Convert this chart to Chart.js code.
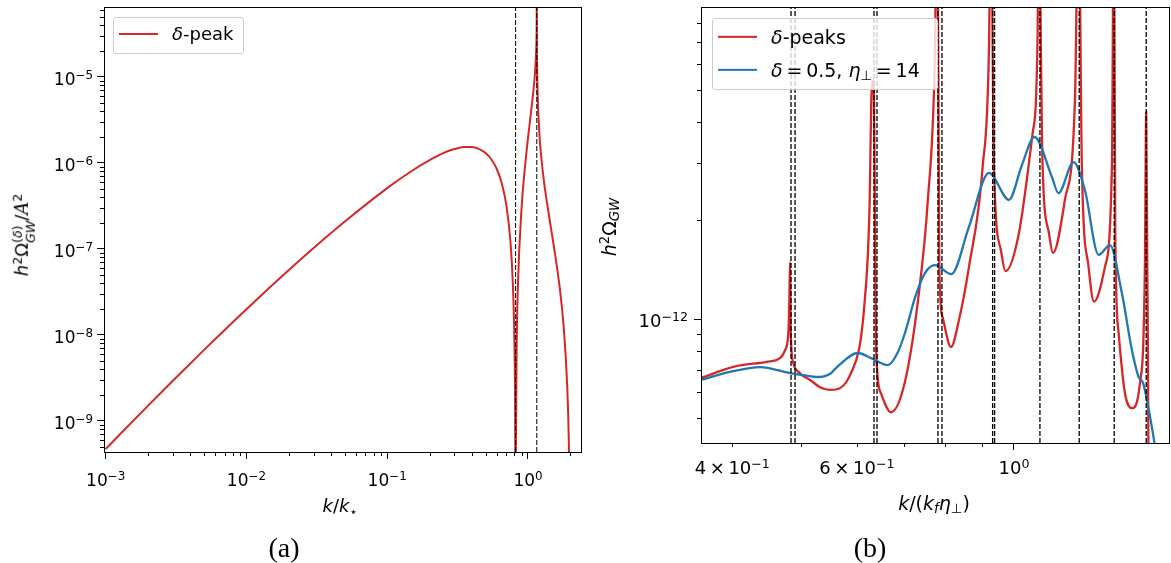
<!DOCTYPE html>
<html>
<head>
<meta charset="utf-8">
<script src="https://cdn.jsdelivr.net/npm/chart.js@4.4.0/dist/chart.umd.min.js"></script>
<style>
  html, body { margin: 0; padding: 0; background: #fff; }
  #fig { position: relative; width: 1171px; height: 563px; font-family: 'DejaVu Sans', sans-serif; color: #000; overflow: hidden; }
  .panel { position: absolute; top: 0; height: 520px; }
  .txt { position: absolute; white-space: nowrap; transform: translate(-50%, -50%); line-height: 1; }
  .rot { transform: translate(-50%, -50%) rotate(-90deg); }
  sup { font-size: 0.7em; line-height: 0; vertical-align: 0.48em; }
  sub { font-size: 0.7em; line-height: 0; vertical-align: -0.3em; }
  .stack { display: inline-flex; flex-direction: column; font-size: 0.7em; line-height: 1.05; vertical-align: 0.5em; }
  .cal { font-family: 'DejaVu Serif', serif; font-style: italic; }
  .tick { position: absolute; white-space: nowrap; line-height: 1; }
  .legend { position: absolute; background: rgba(255,255,255,0.8); border: 1px solid #ccc; border-radius: 3px; box-sizing: border-box; }
  .legend .swatch { position: absolute; transform: translateY(-50%); }
  .legend .lab { position: absolute; white-space: nowrap; transform: translateY(-50%); line-height: 1; }
  .caption { position: absolute; font-family: 'Liberation Serif', serif; font-size: 28px; transform: translate(-50%, -50%); }
</style>
</head>
<body>
<div id="fig">
  <div class="panel" style="left:0;width:590px"><canvas id="chartA"></canvas></div>
  <div class="panel" style="left:590px;width:581px"><canvas id="chartB"></canvas></div>

  <div class="txt" style="left:340px;top:506px;font-size:18px"><i>k</i>/<i>k</i><sub>⋆</sub></div>
  <div class="txt rot" style="left:24px;top:235px;font-size:18px"><i>h</i><sup>2</sup>Ω<span class="stack"><span>(<i>δ</i>)</span><span><i>GW</i></span></span>/<span class="cal">A</span><sup>2</sup></div>

  <div class="txt" style="left:934px;top:503px;font-size:19px"><i>k</i>/(<i>k</i><sub><i>f</i></sub><i>η</i><sub>⊥</sub>)</div>
  <div class="txt rot" style="left:609px;top:227px;font-size:19px"><i>h</i><sup>2</sup>Ω<sub><i>GW</i></sub></div>

  <div id="legA" class="legend" style="left:113px;top:17px;width:131px;height:37px"></div>
  <div id="legB" class="legend" style="left:712px;top:18px;width:226px;height:72px"></div>

  <div class="caption" style="left:284px;top:548px">(a)</div>
  <div class="caption" style="left:870px;top:548px">(b)</div>
</div>

<script>
// panel (a): single delta peak
const kA = [0.001, 0.002, 0.003, 0.005, 0.01, 0.02, 0.03, 0.05, 0.1, 0.15, 0.2, 0.25, 0.3, 0.35,
            0.4, 0.45, 0.5, 0.55, 0.6, 0.65, 0.7, 0.75, 0.78, 0.8, 0.81, 0.815, 0.82, 0.83, 0.85,
            0.9, 0.95, 1.0, 1.05, 1.1, 1.13, 1.15, 1.153, 1.1545, 1.1549, 1.157, 1.16, 1.2, 1.25,
            1.3, 1.4, 1.5, 1.6, 1.7, 1.8, 1.9, 1.95, 1.98];
const omegaA = [4.69e-10, 1.50e-9, 2.92e-9, 6.66e-9, 1.98e-8, 5.65e-8, 1.02e-7, 2.07e-7, 5.06e-7, 8.06e-7,
                1.07e-6, 1.29e-6, 1.44e-6, 1.52e-6, 1.52e-6, 1.44e-6, 1.30e-6, 1.09e-6, 8.45e-7, 5.82e-7,
                3.29e-7, 1.23e-7, 4.02e-8, 8.68e-9, 1.38e-9, 7.4e-11, 4.1e-10, 6.29e-9, 4.10e-8, 2.92e-7,
                8.65e-7, 1.93e-6, 3.84e-6, 7.71e-6, 1.34e-5, 2.92e-5, 4.24e-5, 8.06e-5, 6.36e-5, 2.31e-5,
                1.43e-5, 2.47e-6, 1.06e-6, 6.0e-7, 2.6e-7, 1.28e-7, 6.4e-8, 3.0e-8, 1.14e-8, 2.49e-9,
                5.9e-10, 9.2e-11];
const vlinesA = [0.8165, 1.1547];
const xLimA = [9.73e-4, 2.38];
const yLimA = [4.33e-10, 6.46e-5];
const kTicksA = [1e-3, 1e-2, 1e-1, 1];
const kTickLabelsA = ['10<sup>−3</sup>', '10<sup>−2</sup>', '10<sup>−1</sup>', '10<sup>0</sup>'];
const omegaTicksA = [1e-9, 1e-8, 1e-7, 1e-6, 1e-5];
const omegaTickLabelsA = ['10<sup>−9</sup>', '10<sup>−8</sup>', '10<sup>−7</sup>', '10<sup>−6</sup>', '10<sup>−5</sup>'];

// panel (b): several delta peaks vs. broad peak
const kRedB = [0.3613, 0.4013, 0.4473, 0.4671, 0.4749, 0.4800, 0.4816, 0.4827, 0.4838, 0.4879, 0.4986,
               0.5152, 0.5321, 0.5496, 0.5885, 0.6155, 0.6255, 0.6287, 0.6332, 0.6390, 0.6486, 0.6703,
               0.7008, 0.7319, 0.7558, 0.7726, 0.7796, 0.7843, 0.7931, 0.8147, 0.8362, 0.8638, 0.9032,
               0.9219, 0.9279, 0.9370, 0.9585, 0.9728, 1.0164, 1.0627, 1.0801, 1.0828, 1.0978, 1.1205,
               1.1352, 1.1803, 1.2195, 1.2340, 1.2473, 1.2749, 1.2972, 1.3443, 1.3753, 1.3843, 1.3903,
               1.4058, 1.4348, 1.4679, 1.5066, 1.5311, 1.5377, 1.5498];
const omegaRedB = [6.61e-13, 7.15e-13, 7.41e-13, 7.60e-13, 8.04e-13, 9.06e-13, 1.14e-12, 1.49e-12, 9.06e-13,
                   7.34e-13, 6.84e-13, 6.52e-13, 6.20e-13, 6.08e-13, 6.84e-13, 1.14e-12, 2.31e-12, 4.65e-12,
                   5.36e-12, 7.88e-13, 5.95e-13, 5.20e-13, 6.38e-13, 1.14e-12, 2.31e-12, 5.87e-12, 2.0e-11,
                   1.44e-12, 1.01e-12, 8.22e-13, 9.93e-13, 1.44e-12, 2.91e-12, 6.61e-12, 2.0e-11, 2.91e-12,
                   1.62e-12, 1.40e-12, 1.83e-12, 3.69e-12, 7.45e-12, 2.0e-11, 2.91e-12, 1.83e-12, 1.59e-12,
                   2.31e-12, 4.65e-12, 2.0e-11, 2.91e-12, 1.44e-12, 1.13e-12, 1.44e-12, 2.91e-12, 2.0e-11,
                   1.83e-12, 9.06e-13, 5.95e-13, 5.35e-13, 6.38e-13, 1.44e-12, 4.28e-12, 3.0e-13];
const kBlueB = [0.3613, 0.3971, 0.4378, 0.4827, 0.5035, 0.5286, 0.5515, 0.5623, 0.6022, 0.6281, 0.6637,
                0.6857, 0.7036, 0.7246, 0.7486, 0.7733, 0.8157, 0.8638, 0.9219, 0.9838, 1.0264, 1.0690,
                1.1314, 1.1556, 1.2142, 1.2597, 1.3172, 1.3665, 1.4206, 1.4679, 1.5003, 1.5226, 1.5714, 1.5868];
const omegaBlueB = [6.52e-13, 6.90e-13, 7.14e-13, 6.84e-13, 6.75e-13, 6.66e-13, 6.84e-13, 7.14e-13, 7.88e-13,
                    7.60e-13, 7.24e-13, 7.93e-13, 9.26e-13, 1.16e-12, 1.38e-12, 1.46e-12, 1.37e-12, 1.91e-12,
                    2.79e-12, 2.31e-12, 2.95e-12, 3.59e-12, 2.71e-12, 2.42e-12, 3.01e-12, 2.47e-12, 1.57e-12,
                    1.68e-12, 1.20e-12, 8.04e-13, 6.66e-13, 6.37e-13, 4.49e-13, 3.93e-13];
const vlinesB = [0.4842, 0.4906, 0.6343, 0.6405, 0.7810, 0.7912, 0.9330, 0.9390, 1.0882, 1.2365, 1.3856, 1.5377];
const xLimB = [0.3613, 1.656];
const yLimB = [4.19e-13, 8.94e-12];
const kTicksB = [0.4, 0.6, 1];
const kTickLabelsB = ['4&thinsp;×&thinsp;10<sup>−1</sup>', '6&thinsp;×&thinsp;10<sup>−1</sup>', '10<sup>0</sup>'];
const omegaTicksB = [1e-12];
const omegaTickLabelsB = ['10<sup>−12</sup>'];

const RED = '#d62728';
const BLUE = '#1f77b4';

function isDecade(v) { const l = Math.log10(v); return Math.abs(l - Math.round(l)) < 1e-6; }

function logTicks(min, max) {
  const out = [];
  for (let e = Math.floor(Math.log10(min)); e <= Math.ceil(Math.log10(max)); e++) {
    for (let m = 1; m <= 9; m++) {
      const v = m * Math.pow(10, e);
      if (v >= min * 0.9999 && v <= max * 1.0001) out.push({ value: v });
    }
  }
  return out;
}

function toPoints(xs, ys) { return xs.map((x, i) => ({ x: x, y: ys[i] })); }

function vlineSets(ks, ylim, w) {
  return ks.map(k => ({
    data: [{ x: k, y: ylim[0] }, { x: k, y: ylim[1] }],
    borderColor: '#000', borderWidth: w, borderDash: [5, 2],
    pointRadius: 0, order: 0, clip: 0
  }));
}

// matplotlib style frame and short minor ticks
const axesFrame = {
  id: 'axesFrame',
  afterDatasetsDraw(chart) {
    const { ctx, chartArea: a, scales } = chart;
    ctx.save();
    ctx.strokeStyle = '#000';
    ctx.lineWidth = 1;
    ctx.beginPath();
    scales.x.ticks.forEach(t => {
      if (isDecade(t.value)) return;
      const px = Math.round(scales.x.getPixelForValue(t.value)) + 0.5;
      ctx.moveTo(px, a.bottom); ctx.lineTo(px, a.bottom + 4);
    });
    scales.y.ticks.forEach(t => {
      if (isDecade(t.value)) return;
      const py = Math.round(scales.y.getPixelForValue(t.value)) + 0.5;
      ctx.moveTo(a.left, py); ctx.lineTo(a.left - 4, py);
    });
    ctx.stroke();
    ctx.strokeRect(Math.round(a.left) + 0.5, Math.round(a.top) + 0.5,
                   Math.round(a.right - a.left), Math.round(a.bottom - a.top));
    ctx.restore();
  }
};

function logAxis(lim, fitFn) {
  return {
    type: 'logarithmic', min: lim[0], max: lim[1],
    afterBuildTicks: s => { s.ticks = logTicks(s.min, s.max); },
    afterFit: s => {
      fitFn(s);
      s.paddingTop = 0; s.paddingBottom = 0; s.paddingLeft = 0; s.paddingRight = 0;
    },
    ticks: { display: false, autoSkip: false },
    grid: {
      display: true, drawOnChartArea: false, drawTicks: true, tickLength: 7, tickWidth: 1,
      tickColor: c => (c.tick && isDecade(c.tick.value)) ? '#000' : 'rgba(0,0,0,0)'
    },
    border: { display: false }
  };
}

function lineSet(label, xs, ys, color, width, order) {
  return {
    label: label, data: toPoints(xs, ys), borderColor: color, borderWidth: width,
    pointRadius: 0, cubicInterpolationMode: 'monotone', order: order, clip: 0
  };
}

const chartA = new Chart(document.getElementById('chartA'), {
  type: 'line',
  data: {
    datasets: vlineSets(vlinesA, yLimA, 1).concat([lineSet('δ-peak', kA, omegaA, RED, 2, 2)])
  },
  options: {
    responsive: true, maintainAspectRatio: false, animation: false, devicePixelRatio: 1,
    layout: { padding: { left: 0, right: 9, top: 7, bottom: 0 } },
    plugins: { legend: { display: false }, tooltip: { enabled: false } },
    scales: {
      x: logAxis(xLimA, s => { s.height = 68; }),
      y: logAxis(yLimA, s => { s.width = 104; })
    }
  },
  plugins: [axesFrame]
});

const chartB = new Chart(document.getElementById('chartB'), {
  type: 'line',
  data: {
    datasets: vlineSets(vlinesB, yLimB, 1.3).concat([
      lineSet('δ = 0.5, η⊥ = 14', kBlueB, omegaBlueB, BLUE, 2.3, 1),
      lineSet('δ-peaks', kRedB, omegaRedB, RED, 2.3, 2)
    ])
  },
  options: {
    responsive: true, maintainAspectRatio: false, animation: false, devicePixelRatio: 1,
    layout: { padding: { left: 0, right: 2, top: 7, bottom: 0 } },
    plugins: { legend: { display: false }, tooltip: { enabled: false } },
    scales: {
      x: logAxis(xLimB, s => { s.height = 77; }),
      y: logAxis(yLimB, s => { s.width = 111; })
    }
  },
  plugins: [axesFrame]
});

// tick labels as text, placed through the chart's own scales
const fig = document.getElementById('fig');
function tickLabels(chart, offsetX, vals, labels, opt) {
  const scale = chart.scales[opt.axis];
  const area = chart.chartArea;
  vals.forEach((v, i) => {
    const d = document.createElement('div');
    d.className = 'tick';
    d.style.fontSize = opt.size + 'px';
    d.innerHTML = labels[i];
    const p = scale.getPixelForValue(v);
    const top = (opt.axis === 'x' ? area.bottom + opt.base : p + opt.base) - 0.846 * opt.size;
    d.style.top = top + 'px';
    if (opt.axis === 'x') {
      d.style.left = (offsetX + p) + 'px';
      d.style.transform = 'translateX(-50%)';
    } else {
      d.style.left = (offsetX + area.left - opt.gap) + 'px';
      d.style.transform = 'translateX(-100%)';
    }
    fig.appendChild(d);
  });
}
tickLabels(chartA, 0, kTicksA, kTickLabelsA, { axis: 'x', size: 17, base: 34.5 });
tickLabels(chartA, 0, omegaTicksA, omegaTickLabelsA, { axis: 'y', size: 17, base: 8.5, gap: 11 });
tickLabels(chartB, 590, kTicksB, kTickLabelsB, { axis: 'x', size: 18, base: 31 });
tickLabels(chartB, 590, omegaTicksB, omegaTickLabelsB, { axis: 'y', size: 18, base: 8.5, gap: 13 });

// legends (like matplotlib: semi-transparent box over the axes)
function makeLegend(id, entries, rowY, size, lw) {
  const box = document.getElementById(id);
  entries.forEach((e, i) => {
    const sw = document.createElement('div');
    sw.className = 'swatch';
    sw.style.cssText = 'left:5px;width:39px;height:' + lw + 'px;top:' + rowY[i] + 'px;background:' + e.color;
    box.appendChild(sw);
    const lab = document.createElement('div');
    lab.className = 'lab';
    lab.style.cssText = 'left:58px;font-size:' + size + 'px;top:' + rowY[i] + 'px';
    lab.innerHTML = e.html;
    box.appendChild(lab);
  });
}
makeLegend('legA', [{ color: RED, html: '<i>δ</i>-peak' }], [16], 18, 2);
makeLegend('legB', [
  { color: RED, html: '<i>δ</i>-peaks' },
  { color: BLUE, html: '<i>δ</i>&thinsp;=&thinsp;0.5, <i>η</i><sub>⊥</sub>&thinsp;=&thinsp;14' }
], [18, 51], 19, 2.3);
</script>
</body>
</html>
